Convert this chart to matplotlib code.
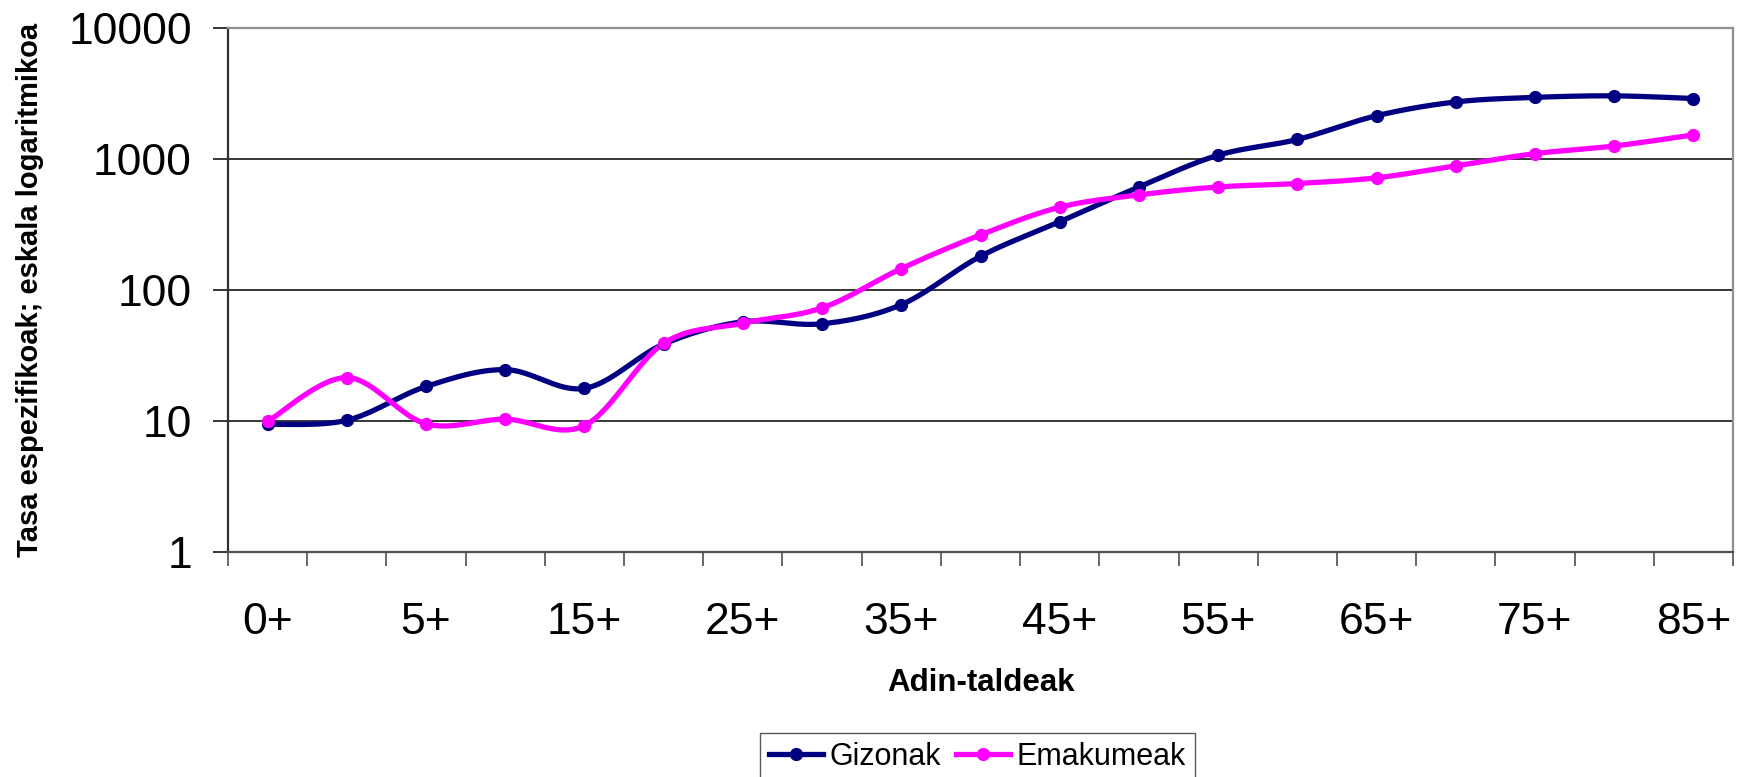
import numpy as np
import matplotlib
matplotlib.use("Agg")
import matplotlib.pyplot as plt
from matplotlib.lines import Line2D
from matplotlib.ticker import FixedLocator, NullFormatter, FixedFormatter, NullLocator

plt.rcParams['font.family'] = ['Liberation Sans', 'DejaVu Sans']

categories = ["0+", "1+", "5+", "10+", "15+", "20+", "25+", "30+", "35+", "40+",
              "45+", "50+", "55+", "60+", "65+", "70+", "75+", "80+", "85+"]
gizonak = [9.4, 10.1, 18.3, 24.6, 17.7, 38.5, 57, 55, 77, 180, 330, 608,
           1062, 1400, 2124, 2705, 2932, 3011, 2874]
emakumeak = [9.9, 21.4, 9.5, 10.3, 9.2, 39, 55.6, 72.7, 145, 262, 426, 529,
             608, 646, 714, 881, 1091, 1248, 1517]
series_names = ["Gizonak", "Emakumeak"]
series_colors = ["#000080", "#FF00FF"]
y_ticks = [1, 10, 100, 1000, 10000]
x_label = "Adin-taldeak"
y_label = "Tasa espezifikoak; eskala logaritmikoa"


def smooth(xs, ys, n=40):
    P = np.column_stack([xs, ys]).astype(float)
    out = []
    for i in range(len(P) - 1):
        p0 = P[i - 1] if i > 0 else P[i]
        p1 = P[i]
        p2 = P[i + 1]
        p3 = P[i + 2] if i + 2 < len(P) else P[i + 1]
        c1 = p1 + (p2 - p0) / 6.0
        c2 = p2 - (p3 - p1) / 6.0
        t = np.linspace(0, 1, n)[:, None]
        seg = (1 - t) ** 3 * p1 + 3 * (1 - t) ** 2 * t * c1 + 3 * (1 - t) * t ** 2 * c2 + t ** 3 * p2
        out.append(seg if i == 0 else seg[1:])
    return np.vstack(out)


W, H = 1742, 777
fig = plt.figure(figsize=(W / 100, H / 100), dpi=100)
ax = fig.add_axes([228 / W, 1 - 552 / H, (1733 - 228) / W, (552 - 27.5) / H])
ax.set_yscale('log')

x = np.arange(len(categories))
lw = 3.8
ms = 8.5
for vals, col in zip([gizonak, emakumeak], series_colors):
    s = smooth(x, np.log10(vals))
    ax.plot(s[:, 0], 10 ** s[:, 1], color=col, lw=lw, solid_capstyle='round', zorder=3)
    ax.plot(x, vals, linestyle='none', marker='o', ms=ms, color=col, zorder=4)

ax.set_xlim(-0.5, len(categories) - 0.5)
ax.set_ylim(1, 10000)

# y axis
ax.yaxis.set_major_locator(FixedLocator(y_ticks))
ax.yaxis.set_major_formatter(FixedFormatter([str(v) for v in y_ticks]))
ax.yaxis.set_minor_locator(NullLocator())
ax.tick_params(axis='y', which='major', length=11, width=1.1, color='black',
               labelsize=32, pad=15, direction='out')
ax.grid(axis='y', which='major', color='black', lw=1.1)

# x axis: boundary ticks, labels at every other category
ax.xaxis.set_major_locator(FixedLocator(np.arange(-0.5, len(categories), 1.0)))
ax.xaxis.set_major_formatter(NullFormatter())
lab_pos = x[::2]
ax.xaxis.set_minor_locator(FixedLocator(lab_pos))
ax.xaxis.set_minor_formatter(FixedFormatter([categories[i] for i in lab_pos]))
ax.tick_params(axis='x', which='major', length=10, width=1.1, color='#404040', direction='out')
ax.tick_params(axis='x', which='minor', length=0, labelsize=32, pad=36)

ax.spines['left'].set_color('#303030')
ax.spines['bottom'].set_color('#505050')
ax.spines['top'].set_color('#909090')
ax.spines['right'].set_color('#909090')
for sp in ax.spines.values():
    sp.set_linewidth(1.6)
ax.set_axisbelow(True)

fig.text(981 / W, 1 - 683 / H, x_label, ha='center', va='center',
         fontsize=22.5, fontweight='bold')
fig.text(30 / W, 1 - 290 / H, y_label, ha='center', va='center',
         rotation=90, fontsize=21, fontweight='bold')

handles = [Line2D([], [], color=c, lw=lw, marker='o', ms=ms) for c in series_colors]
leg = fig.legend(handles, series_names, loc='upper left',
                 bbox_to_anchor=(760 / W, 1 - 733 / H), ncol=2, fontsize=22,
                 frameon=True, fancybox=False, handlelength=1.75, handletextpad=0.23,
                 columnspacing=0.5, borderpad=0.3, borderaxespad=0)
leg.get_frame().set_edgecolor('#303030')
leg.get_frame().set_linewidth(1.0)

fig.savefig('out.png', dpi=100)
